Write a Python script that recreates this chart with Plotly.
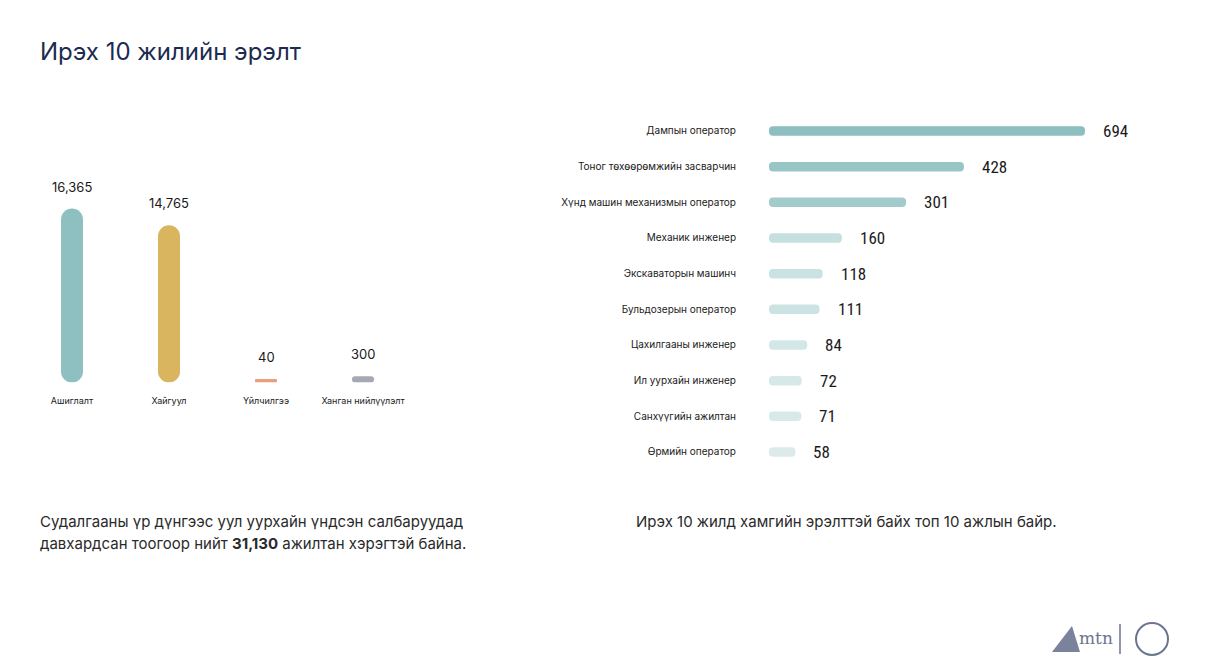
import plotly.graph_objects as go

W, H = 1205, 672

# ---------------- data ----------------
title_text = "Ирэх 10 жилийн эрэлт"

sectors = ["Ашиглалт", "Хайгуул", "Үйлчилгээ", "Ханган нийлүүлэлт"]
sector_values = [16365, 14765, 40, 300]
sector_colors = ["#8fc0c1", "#d8b55e", "#e8a07c", "#a4a9b2"]

jobs = [
    "Дампын оператор",
    "Тоног төхөөрөмжийн засварчин",
    "Хүнд машин механизмын оператор",
    "Механик инженер",
    "Экскаваторын машинч",
    "Бульдозерын оператор",
    "Цахилгааны инженер",
    "Ил уурхайн инженер",
    "Санхүүгийн ажилтан",
    "Өрмийн оператор",
]
job_values = [694, 428, 301, 160, 118, 111, 84, 72, 71, 58]
job_colors = ["#8ebfc0", "#98c5c5", "#a3cbcb", "#c6dfdf", "#cbe2e2",
              "#cde3e3", "#d4e7e7", "#d7e8e8", "#d8e9e9", "#dceaea"]

total_value = "31,130"
left_caption = ["Судалгааны үр дүнгээс уул уурхайн үндсэн салбаруудад",
                "давхардсан тоогоор нийт <b>{}</b> ажилтан хэрэгтэй байна."]
right_caption = "Ирэх 10 жилд хамгийн эрэлттэй байх топ 10 ажлын байр."


def fmt(v):
    return f"{v:,}"


def px(x):
    return x / W


def py(y):
    return 1 - y / H


fig = go.Figure()

# ---------------- left chart (vertical pills) ----------------
L_LEFT, L_RIGHT = 23.5, 411.5
L_TOP, L_BOTTOM = 150.0, 382.5
MAX_TOP = 208.5
CAP_PX = 3.0
l_scale = (L_BOTTOM - MAX_TOP - CAP_PX) / max(sector_values)   # px per unit
l_ymax = (L_BOTTOM - L_TOP) / l_scale
cap = CAP_PX / l_scale
cat_w = (L_RIGHT - L_LEFT) / len(sectors)
l_bar_w = 22 / cat_w

hs = [v + cap for v in sector_values]
fig.add_trace(go.Bar(x=sectors, y=hs, base=[0] * len(hs), width=l_bar_w,
                     marker=dict(color=sector_colors, cornerradius="50%", line=dict(width=0)),
                     xaxis="x", yaxis="y", hoverinfo="skip"))

annotations = []
for s, v, h in zip(sectors, sector_values, hs):
    annotations.append(dict(x=s, y=h, xref="x", yref="y", text=fmt(v), showarrow=False,
                            xanchor="center", yanchor="bottom", yshift=12,
                            font=dict(family="Inter", size=13, color="#1a1a1a")))

# ---------------- right chart (horizontal pills) ----------------
R_LEFT, R_RIGHT = 769.0, 1150.0
R_MAXEND = 1085.0
r_scale = (R_MAXEND - R_LEFT) / max(job_values)
r_xmax = (R_RIGHT - R_LEFT) / r_scale
ROW0, ROWN = 131.0, 452.0
step = (ROWN - ROW0) / (len(jobs) - 1)
R_TOP, R_BOTTOM = ROW0 - step / 2, ROWN + step / 2
r_bar_w = 9.5 / step

fig.add_trace(go.Bar(y=jobs, x=job_values, base=[0] * len(job_values), orientation="h",
                     width=r_bar_w,
                     marker=dict(color=job_colors, cornerradius="50%", line=dict(width=0)),
                     xaxis="x2", yaxis="y2", hoverinfo="skip"))

for j, v in zip(jobs, job_values):
    annotations.append(dict(x=v, y=j, xref="x2", yref="y2", text=str(v), showarrow=False,
                            xanchor="left", yanchor="middle", xshift=16,
                            font=dict(family="Liberation Sans Narrow, Roboto Condensed, Roboto",
                                      size=17, color="#1a1a1a")))

# ---------------- texts ----------------
annotations.append(dict(x=px(38), y=py(52), xref="paper", yref="paper", text=title_text,
                        showarrow=False, xanchor="left", yanchor="middle",
                        font=dict(family="Inter", size=24, color="#1c2b4f")))
annotations.append(dict(x=px(38), y=py(521), xref="paper", yref="paper", text=left_caption[0],
                        showarrow=False, xanchor="left", yanchor="middle",
                        font=dict(family="Inter", size=15, color="#2a2a2a")))
annotations.append(dict(x=px(38), y=py(543), xref="paper", yref="paper",
                        text=left_caption[1].format(total_value),
                        showarrow=False, xanchor="left", yanchor="middle",
                        font=dict(family="Inter", size=15, color="#2a2a2a")))
annotations.append(dict(x=px(634), y=py(521), xref="paper", yref="paper", text=right_caption,
                        showarrow=False, xanchor="left", yanchor="middle",
                        font=dict(family="Inter", size=15, color="#2a2a2a")))

# logo (decorative)
annotations.append(dict(x=px(1096), y=py(638), xref="paper", yref="paper", text="mtn",
                        showarrow=False, xanchor="center", yanchor="middle",
                        font=dict(family="DejaVu Serif", size=17, color="#6b7590")))
shapes = [
    dict(type="path", xref="paper", yref="paper",
         path=f"M {px(1052)} {py(652)} L {px(1072)} {py(626)} L {px(1080)} {py(652)} Z",
         fillcolor="#7a839b", line=dict(width=0)),
    dict(type="line", xref="paper", yref="paper", x0=px(1120), x1=px(1120), y0=py(624), y1=py(654),
         line=dict(color="#6b7590", width=1.5)),
    dict(type="circle", xref="paper", yref="paper", x0=px(1136), x1=px(1168), y0=py(655), y1=py(623),
         line=dict(color="#6b7590", width=2)),
]

fig.update_layout(
    width=W, height=H,
    margin=dict(l=0, r=0, t=0, b=0),
    paper_bgcolor="white", plot_bgcolor="white",
    showlegend=False, barmode="overlay",
    xaxis=dict(domain=[px(L_LEFT), px(L_RIGHT)], type="category", range=[-0.5, len(sectors) - 0.5],
               showgrid=False, zeroline=False, showline=False,
               ticks="outside", ticklen=10, tickcolor="rgba(0,0,0,0)",
               tickfont=dict(family="Inter", size=9, color="#1a1a1a"), fixedrange=True),
    yaxis=dict(domain=[py(L_BOTTOM), py(L_TOP)], range=[0, l_ymax], visible=False, fixedrange=True),
    xaxis2=dict(domain=[px(R_LEFT), px(R_RIGHT)], range=[0, r_xmax], visible=False, fixedrange=True,
                anchor="y2"),
    yaxis2=dict(domain=[py(R_BOTTOM), py(R_TOP)], type="category", range=[len(jobs) - 0.5, -0.5],
                anchor="x2", showgrid=False, zeroline=False, showline=False,
                ticks="outside", ticklen=30, tickcolor="rgba(0,0,0,0)",
                tickfont=dict(family="Inter", size=10, color="#1a1a1a"), fixedrange=True),
    annotations=annotations,
    shapes=shapes,
)

fig.write_html("out.html")
